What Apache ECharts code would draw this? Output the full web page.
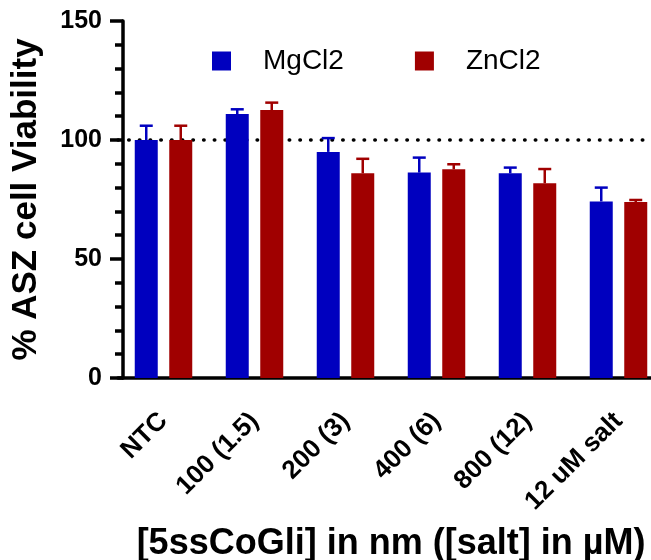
<!DOCTYPE html>
<html>
<head>
<meta charset="utf-8">
<script src="https://cdn.jsdelivr.net/npm/echarts@6/dist/echarts.min.js"></script>
<style>
html,body{margin:0;padding:0;background:#fff;}
#chart{width:651px;height:560px;}
</style>
</head>
<body>
<div id="chart"></div>
<script>
const categories = ['NTC', '100 (1.5)', '200 (3)', '400 (6)', '800 (12)', '12 uM salt'];
const seriesNames = ['MgCl2', 'ZnCl2'];
const mgcl2 = [100, 110.9, 95.0, 86.3, 86.0, 74.2];
const mgcl2Err = [6.0, 2.0, 5.8, 6.3, 2.4, 5.8];
const zncl2 = [100, 112.6, 86.0, 87.7, 81.8, 73.9];
const zncl2Err = [6.0, 3.1, 6.1, 2.1, 6.0, 0.9];
const referenceLine = 100;
const yMin = 0, yMax = 150, yInterval = 50;

const FONT = "'Liberation Sans', Arial, sans-serif";
const BLUE = '#0000BF';
const RED = '#A00000';
const BAR_W = 23;
const GAP_PX = 11.5;

function errorSeries(name, values, errs, color, side) {
  return {
    name: name,
    type: 'custom',
    z: 3,
    silent: true,
    data: categories.map((c, i) => [i, values[i], errs[i]]),
    encode: { x: 0, y: 1 },
    renderItem: function (params, api) {
      const i = api.value(0), v = api.value(1), e = api.value(2);
      const base = api.coord([i, v]);
      const top = api.coord([i, v + e]);
      const x = base[0] + side * (BAR_W + GAP_PX) / 2;
      const st = { stroke: color, lineWidth: 2.5 };
      return {
        type: 'group',
        children: [
          { type: 'line', shape: { x1: x, y1: base[1], x2: x, y2: top[1] }, style: st },
          { type: 'line', shape: { x1: x - 6.5, y1: top[1], x2: x + 6.5, y2: top[1] }, style: st }
        ]
      };
    }
  };
}

const chart = echarts.init(document.getElementById('chart'), null, { renderer: 'canvas' });
chart.setOption({
  backgroundColor: '#fff',
  animation: false,
  textStyle: { fontFamily: FONT },
  grid: { left: 118, width: 546, top: 21, height: 357, containLabel: false, outerBoundsMode: 'none' },
  legend: {
    data: seriesNames,
    left: 212,
    top: 47,
    padding: 0,
    itemWidth: 19,
    itemHeight: 19,
    itemGap: 71,
    icon: 'rect',
    textStyle: { fontSize: 28, color: '#000', fontFamily: FONT, padding: [0, 0, 0, 27] }
  },
  xAxis: {
    type: 'category',
    data: categories,
    name: '[5ssCoGli] in nm ([salt] in µM)',
    nameLocation: 'middle',
    nameGap: 148,
    nameTextStyle: { fontSize: 36, fontWeight: 'bold', color: '#000', fontFamily: FONT },
    axisLine: { lineStyle: { color: '#000', width: 3.5 } },
    axisTick: { alignWithLabel: true, length: 15, lineStyle: { color: '#000', width: 3.5 } },
    axisLabel: { rotate: 45, margin: 39, fontSize: 26, fontWeight: 'bold', color: '#000', fontFamily: FONT, interval: 0 }
  },
  yAxis: {
    type: 'value',
    min: yMin,
    max: yMax,
    interval: yInterval,
    offset: -5,
    name: '% ASZ cell Viability',
    nameLocation: 'middle',
    nameGap: 79,
    nameTextStyle: { fontSize: 35, fontWeight: 'bold', color: '#000', fontFamily: FONT },
    axisLine: { show: true, lineStyle: { color: '#000', width: 3.5 } },
    axisTick: { show: true, length: 13, lineStyle: { color: '#000', width: 3.5 } },
    minorTick: { show: true, splitNumber: 5, length: 8, lineStyle: { color: '#000', width: 3.5 } },
    splitLine: { show: false },
    axisLabel: { margin: 21, fontSize: 25, fontWeight: 'bold', color: '#000', fontFamily: FONT }
  },
  series: [
    {
      name: seriesNames[0],
      type: 'bar',
      data: mgcl2,
      barWidth: BAR_W,
      barGap: (GAP_PX / BAR_W * 100) + '%',
      itemStyle: { color: BLUE },
      z: 2,
      markLine: {
        z: 1,
        silent: true,
        symbol: 'none',
        label: { show: false },
        lineStyle: { color: '#000', width: 3.5, type: [0.5, 10.2], cap: 'round' },
        data: [{ yAxis: referenceLine }]
      }
    },
    {
      name: seriesNames[1],
      type: 'bar',
      data: zncl2,
      barWidth: BAR_W,
      barGap: (GAP_PX / BAR_W * 100) + '%',
      itemStyle: { color: RED },
      z: 2
    },
    errorSeries('MgCl2 SD', mgcl2, mgcl2Err, BLUE, -1),
    errorSeries('ZnCl2 SD', zncl2, zncl2Err, RED, 1)
  ]
});
</script>
</body>
</html>
